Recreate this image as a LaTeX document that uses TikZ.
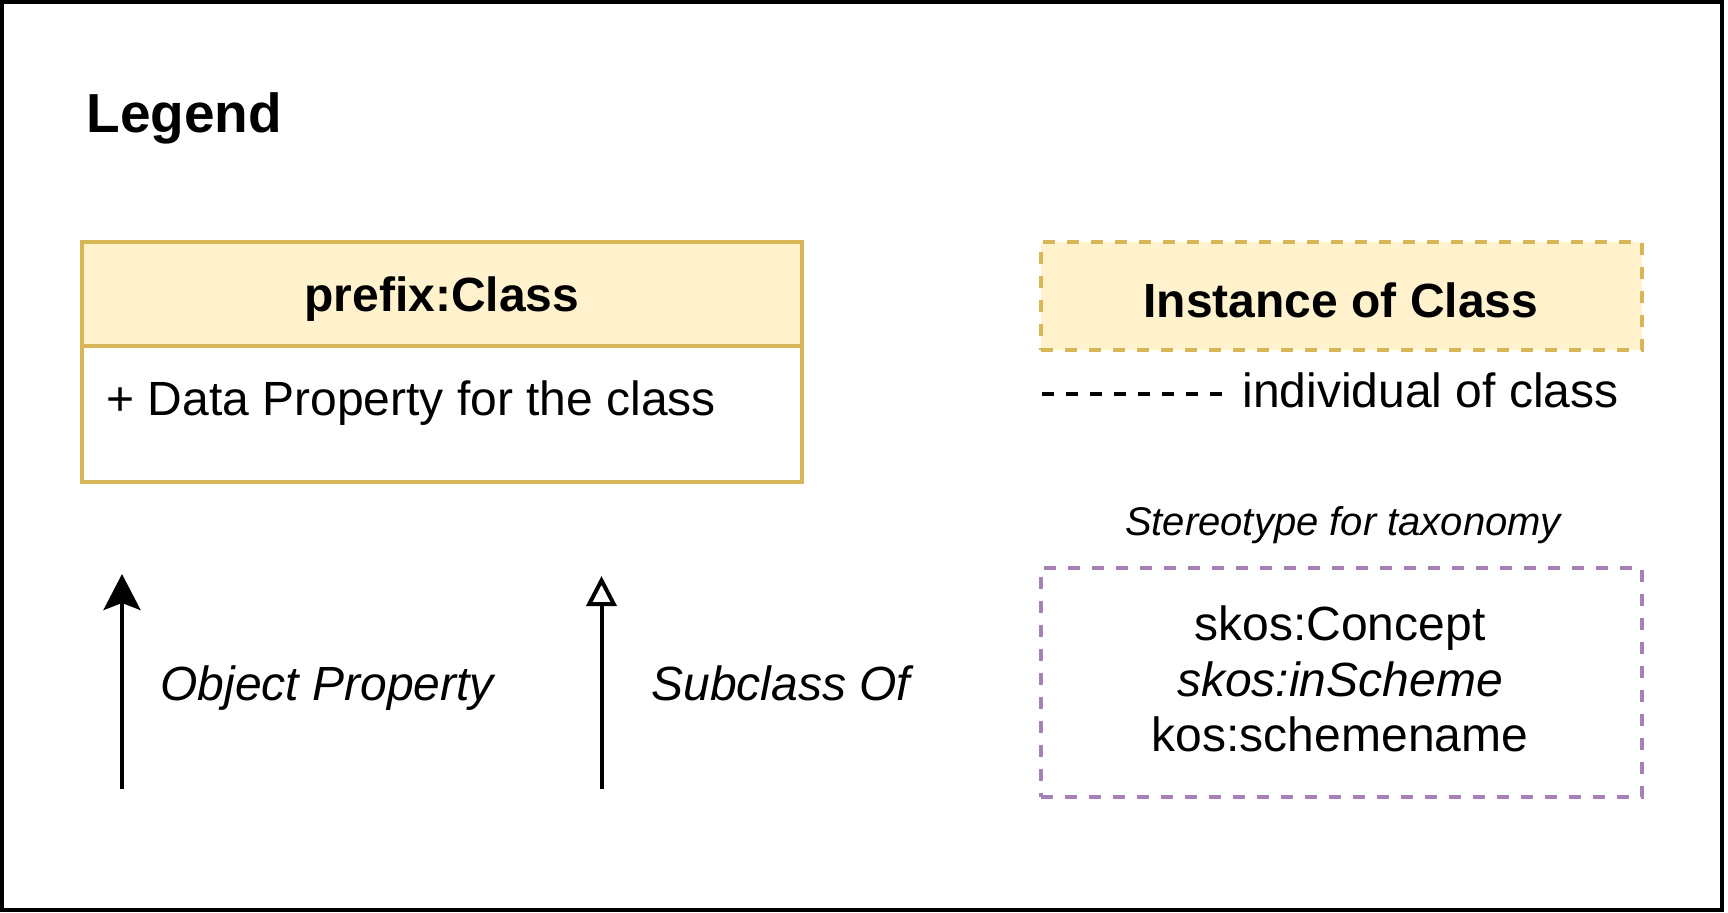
\documentclass[tikz,border=0pt]{standalone}
\usepackage{fontspec}
\setmainfont{Liberation Sans}
\usetikzlibrary{arrows.meta}
\definecolor{clsfill}{HTML}{FFF2CC}
\definecolor{clsline}{HTML}{D6B656}
\definecolor{skosline}{HTML}{A680B8}
\begin{document}
\begin{tikzpicture}[x=0.5pt,y=-0.5pt,
  txt/.style={inner sep=0pt, anchor=base, font=\fontsize{24pt}{28.8pt}\selectfont},
  boldtxt/.style={txt, font=\fontsize{24pt}{28.8pt}\selectfont\bfseries},
  ittxt/.style={txt, font=\fontsize{24pt}{28.8pt}\selectfont\itshape},
  clsbox/.style={draw=clsline, line width=2pt, fill=clsfill, inner sep=0pt, minimum width=360pt},
  bodybox/.style={draw=clsline, line width=2pt, fill=white, inner sep=0pt, minimum width=360pt},
  instbox/.style={draw=clsline, line width=2pt, fill=clsfill, dash pattern=on 6pt off 6pt, inner sep=0pt, minimum width=300.5pt, minimum height=54pt},
  skosbox/.style={draw=skosline, line width=2pt, dash pattern=on 6pt off 6pt, inner sep=0pt, minimum width=300.5pt, minimum height=114.5pt},
  inddash/.style={draw=black, line width=2pt, dash pattern=on 6pt off 6pt},
  objprop/.style={draw=black, line width=2pt, -{Stealth[length=18pt, width=18.5pt, inset=3.5pt]}},
  subcls/.style={draw=black, line width=2pt, -{Triangle[open, length=15pt, width=15pt, fill=white]}}
]
\useasboundingbox (0,0) rectangle (1728,912);
\node[draw=black, line width=2.2pt, inner sep=0pt, minimum width=860pt, minimum height=454pt] (frame) at (862,456) {};

\node[inner sep=0pt, anchor=base west, font=\fontsize{27.5pt}{33pt}\selectfont\bfseries] (title) at (86,132) {Legend};

% class box
\node[clsbox, minimum height=52pt] (classhead) at (442,294) {};
\node[bodybox, minimum height=68pt] (classbody) at (442,414) {};
\node[boldtxt] (classname) at (442,311) {prefix:Class};
\node[txt, anchor=base west] (dataprop) at (106,415) {+ Data Property for the class};

% instance
\node[instbox] (inst) at (1341.5,296) {};
\node[boldtxt] (insttext) at (1341,317) {Instance of Class};
\coordinate (inda) at (1042,394);
\coordinate (indb) at (1222,394);
\draw[inddash] (inda) -- (indb);
\node[txt, anchor=base west] (indlabel) at (1242,407) {individual of class};

% stereotype
\node[inner sep=0pt, anchor=base, font=\fontsize{20pt}{24pt}\selectfont\itshape] (stereo) at (1343,535) {Stereotype for taxonomy};
\node[skosbox] (skos) at (1341.5,682) {};
\node[txt] (skos1) at (1340,640) {skos:Concept};
\node[ittxt] (skos2) at (1340,696) {skos:inScheme};
\node[txt] (skos3) at (1340,751) {kos:schemename};

% arrows
\coordinate (opa) at (122,789);
\coordinate (opb) at (122,574);
\draw[objprop] (opa) -- (opb);
\node[ittxt, anchor=base west] (oplabel) at (160,700) {Object Property};

\coordinate (sca) at (601.5,789);
\coordinate (scb) at (601.5,576);
\draw[subcls] (sca) -- (scb);
\node[ittxt, anchor=base west] (sclabel) at (651,700) {Subclass Of};
\end{tikzpicture}
\end{document}
